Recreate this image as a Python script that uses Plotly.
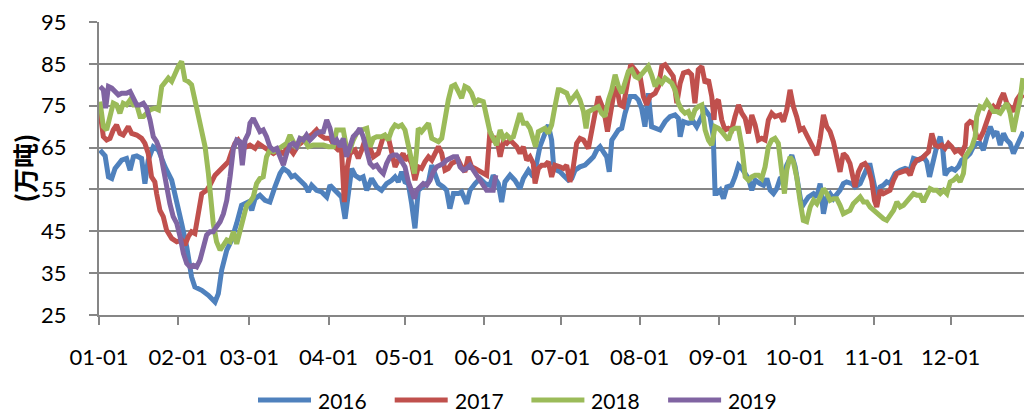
import datetime as dt
import plotly.graph_objects as go

# ---- data: day of year (0 = Jan 1) and stock readings, 万吨 ----
days_2016 = [
    0.4, 2.4, 3.7, 5.0, 6.3, 8.9, 10.8, 12.2, 13.5, 14.8, 16.7, 18.0, 19.3, 21.3, 23.3, 25.9, 28.5, 30.5, 32.4, 34.4,
    36.3, 37.6, 40.3, 42.9, 45.5, 46.8, 48.1, 50.1, 52.0, 54.0, 55.9, 58.6,
    59.9, 61.2, 63.1, 65.1, 67.0, 69.0, 71.0, 72.3, 74.2, 75.5, 76.8, 78.8, 80.8, 82.1, 83.4, 85.3, 87.3, 89.3, 90.6, 92.5,
    93.8, 95.1, 96.5, 97.8, 99.1, 100.4, 102.3, 103.6, 105.0, 106.9, 108.9, 110.8, 112.8, 114.8, 116.1, 117.4, 118.7,
    120.0, 121.3, 122.6, 123.9, 125.2, 127.2, 129.2, 130.5, 131.8, 133.1, 135.0, 136.3, 137.6, 139.0, 140.9, 142.2, 144.2,
    145.5, 147.5, 149.4, 151.4, 153.3, 154.6, 156.6, 157.9, 159.2, 161.2, 163.1, 165.1, 166.4, 168.4, 170.3, 171.6, 172.9,
    174.9, 176.2, 177.5, 178.2, 179.5,
    180.8, 182.1, 184.1, 185.4, 186.7, 188.6, 190.6, 192.6, 193.9, 195.2, 196.5, 197.8, 199.1, 200.1, 201.1, 202.4, 203.7,
    205.0, 206.3, 208.3, 210.2, 211.5, 212.8, 214.1, 215.4, 216.7, 218.7, 220.0, 222.0, 223.9, 225.9, 227.2, 227.9, 229.2,
    231.1, 233.1, 234.4, 235.7, 237.7, 239.6, 240.9, 241.6,
    242.3, 243.6, 244.9, 246.2, 248.1, 249.4, 250.8, 252.1, 253.4, 254.7, 256.0, 257.3, 259.2, 260.6, 261.9, 263.2, 264.5,
    265.8, 267.1, 268.4, 269.7, 271.7, 273.0, 274.3, 275.6, 276.9, 278.2, 280.2, 281.5, 282.8, 284.1, 285.4, 286.7, 288.0,
    289.3, 290.6, 291.9, 293.2, 295.2, 296.5, 298.5, 300.4, 301.7,
    302.4, 305.0, 306.3, 307.6, 308.9, 310.2, 312.2, 314.2, 316.1, 318.1, 319.4, 321.4, 323.3, 324.6, 325.7, 327.2, 328.5,
    329.9, 330.9, 331.8, 333.1, 334.4, 335.7, 337.0, 338.3, 340.3, 341.6, 342.9, 344.2, 345.5, 346.8, 348.2, 349.5, 350.8,
    352.1, 353.4, 354.7, 356.0, 357.3, 358.6, 359.9, 361.2, 362.5,
]
vals_2016 = [
    64.4, 63, 58, 57.6, 60, 62, 62.4, 59.6, 62.8, 63, 62.4, 56.4, 62, 65.2, 64.4, 60.4, 57.2, 52.4, 46.9, 41.3,
    34.1, 31.7, 30.9, 29.7, 28.1, 30.1, 35.7, 40.5, 42.9, 46.9, 51.2, 52,
    50, 52.8, 53.6, 52.4, 52, 55.6, 58.8, 60, 59.2, 58, 58.4, 57.2, 56, 54.4, 56, 54.8, 54.4, 53.2, 56, 54.8,
    54, 53.2, 48, 54.8, 60, 58.4, 57.6, 58, 54.8, 57.6, 55.6, 54.8, 56.4, 57.2, 58, 56.8, 59.2,
    56.8, 56.4, 51.6, 45.7, 54.8, 56, 56.8, 60.8, 58.4, 56.4, 55.6, 54.8, 50.4, 54, 54, 54.4, 51.6,
    54.8, 56.4, 57.6, 56.4, 56, 58.4, 56.4, 52, 56.8, 58.4, 57.2, 55.2, 57.6, 59.6, 58, 61.2, 65.2,
    68.4, 70.4, 66.8, 61.2, 59.6,
    59.2, 58.4, 57.2, 57.6, 59.6, 60.4, 60.8, 62, 62.8, 64.4, 65.2, 64, 62.8, 59.2, 66.8, 68, 69.2,
    69.6, 73.2, 77.2, 77.2, 76.4, 74.4, 70, 78, 70, 69.6, 69.2, 71.2, 72.4, 72.8, 72, 67.6, 71.2,
    70.8, 71.2, 70, 71.6, 74, 72.4, 67.6, 54,
    54, 54.8, 52.8, 55.6, 56, 58, 60.8, 60, 58.8, 57.6, 54.8, 57.2, 56.4, 56, 57.6, 54.8, 54,
    55.2, 57.6, 58, 60.8, 63.2, 60.4, 54.8, 50.8, 52, 53.2, 54, 53.2, 56.4, 49.2, 53.2, 54, 52.8,
    53.6, 54.8, 56.4, 56.8, 56.4, 55.6, 56.4, 58.8, 60.8,
    60.8, 53.2, 55.6, 56, 56.8, 56.4, 58.8, 59.6, 60, 59.6, 62.4, 62, 62.8, 61.6, 58, 62, 65.2,
    67.6, 64.4, 58.4, 59.6, 60, 59.6, 60.4, 62, 62.8, 63.6, 65.2, 66, 66, 64.4, 67.6, 70, 68,
    68.8, 65.6, 68.4, 66.8, 66, 63.6, 65.2, 66.8, 68.8,
]

days_2017 = [
    0.4, 1.7, 3.0, 4.3, 5.6, 6.9, 8.2, 9.5, 11.5, 12.8, 14.8, 16.7, 18.0, 19.3, 20.6, 21.9, 22.6, 23.9, 25.2, 26.5,
    28.5, 30.5, 32.4, 33.7, 35.0, 36.3, 37.6, 38.9, 40.3, 42.2, 43.5, 45.5, 47.5, 49.4, 50.7, 52.0, 53.3, 54.6, 55.9, 57.9,
    59.2, 61.2, 62.5, 64.4, 66.4, 68.4, 70.3, 72.3, 74.2, 76.2, 78.2, 80.1, 82.1, 84.0, 85.3, 86.7, 88.6, 90.6, 92.5, 93.8,
    95.1, 96.2, 97.4, 98.4, 100.4, 101.7, 103.0, 104.3, 105.6, 107.6, 109.5, 111.5, 113.4, 114.8, 116.1, 117.4, 119.3,
    120.0, 121.3, 122.6, 123.9, 125.2, 126.5, 127.8, 129.2, 130.5, 131.8, 133.1, 134.4, 135.7, 137.0, 138.3, 139.6, 140.9,
    142.2, 143.5, 144.8, 146.1, 147.5, 148.8, 150.7, 152.0, 153.3, 154.6, 155.9, 157.3, 158.6, 159.9, 161.2, 162.5, 163.8,
    165.1, 166.4, 167.7, 169.0, 170.3, 171.0, 172.3, 173.6, 174.9, 176.2, 177.5, 178.8,
    180.8, 182.1, 183.4, 184.7, 186.0, 187.3, 188.6, 190.0, 191.9, 193.2, 194.5, 195.8, 197.1, 198.4, 199.4, 200.4, 201.7,
    203.0, 204.3, 205.6, 206.9, 208.5, 210.2, 212.2, 213.5, 214.8, 216.1, 218.1, 219.4, 220.7, 222.0, 223.3, 225.2, 226.6,
    227.9, 229.2, 231.1, 232.4, 233.7, 235.0, 236.4, 237.7, 239.0, 240.3, 241.2,
    241.6, 242.9, 244.2, 245.5, 246.8, 248.1, 249.4, 250.8, 252.1, 253.4, 254.7, 256.0, 257.3, 258.6, 259.9, 261.2, 262.5,
    263.8, 265.1, 267.1, 268.4, 269.7, 271.0, 272.3, 273.6, 274.9, 276.2, 277.5, 278.9, 280.2, 281.5, 282.8, 284.1, 285.4,
    286.7, 288.0, 289.3, 290.6, 291.9, 293.2, 294.5, 296.5, 297.8, 299.1, 300.4, 301.7, 303.0, 304.1,
    305.0, 306.3, 307.6, 308.9, 310.2, 311.6, 312.9, 314.8, 316.8, 318.1, 319.4, 320.7, 322.7, 324.0, 325.3, 326.6, 327.9,
    329.2, 330.5, 331.8, 333.1, 334.4, 335.7, 337.0, 338.3, 339.7, 340.3, 341.6, 342.9, 344.2, 345.5, 346.8, 348.2, 349.5,
    350.8, 352.1, 353.4, 354.7, 356.0, 357.3, 358.6, 359.9, 361.2, 362.5,
]
vals_2017 = [
    73.6, 67.6, 66.8, 67.2, 69.2, 70.4, 68.4, 68, 70, 68.4, 68, 67.2, 66, 63.6, 58, 56.8, 54, 50, 48.5, 45.3,
    43.3, 42.5, 42.9, 41.7, 43.7, 44.9, 44.5, 48.5, 54, 54.8, 56, 58.4, 59.6, 60.4, 61.6, 64, 66, 66.8, 65.6, 65.2,
    65.6, 64.8, 66, 65.2, 64.4, 63.6, 64.4, 63.6, 65.2, 63.6, 65.6, 66.4, 67.6, 68.4, 69.2, 68, 67.2, 67.2, 65.2, 64.4,
    64.4, 52, 60.4, 63.6, 64.4, 62.4, 64.4, 66.8, 66, 62.8, 63.6, 67.6, 67.6, 64.4, 60.4, 62, 63.6,
    62, 62.8, 61.2, 57.2, 60.4, 60, 61.6, 62.8, 62, 63.6, 65.2, 63.6, 59.6, 60, 61.2, 61.6, 62,
    60.4, 59.2, 62.8, 60.4, 60, 59.6, 58.8, 58.4, 68.8, 66.4, 67.6, 62.8, 66.4, 66, 66.8, 66, 65.2,
    63.6, 65.2, 62, 62.8, 61.2, 56.4, 60, 60.8, 60.8, 61.6, 58, 60.8,
    60.4, 60, 60.8, 56.8, 60.4, 66, 67.2, 66.8, 64.8, 69.2, 74.4, 77.2, 75.2, 72.4, 68.8, 73.2, 77.2,
    79.6, 75.2, 74.8, 78.8, 84.8, 83.6, 82, 77.2, 75.2, 77.2, 78, 79.6, 84.4, 84.8, 83.6, 82, 75.6,
    80.4, 82.8, 83.2, 82.4, 75.6, 83.6, 84.4, 80.4, 81.2, 77.2, 71.6,
    75.6, 76.4, 71.6, 69.2, 69.6, 69.2, 72.4, 75.2, 73.2, 72, 68.4, 72.8, 70.4, 66.8, 67.2, 66.8, 71.6,
    73.2, 72.4, 72.8, 71.2, 74, 78.8, 74.8, 72.4, 69.2, 69.6, 68, 66, 64.8, 63.2, 67.2, 72.8, 70,
    68.8, 66.4, 62, 59.2, 63.6, 62.8, 61.2, 55.6, 59.2, 60.8, 61.2, 60, 57.2, 52.4,
    50.8, 54.8, 54, 54.4, 54.8, 57.2, 58.8, 59.2, 59.6, 58.4, 60.8, 62, 62.4, 63.2, 64, 68.4, 65.6,
    65.2, 65.6, 64.8, 66, 65.2, 64, 64.4, 63.6, 65.6, 70.4, 71.2, 70.8, 67.6, 67.2, 68.8, 71.2, 73.6,
    74.8, 74, 76.4, 78, 75.6, 74.8, 73.6, 76.4, 77.6, 76.8,
]

days_2018 = [
    0.4, 1.7, 3.0, 4.3, 5.6, 6.9, 8.2, 9.5, 10.8, 12.2, 13.5, 14.8, 16.1, 17.4, 18.7, 20.0, 21.9, 23.3, 24.6, 25.9,
    27.2, 28.5, 29.8, 31.1, 32.4, 33.7, 35.0, 36.3, 37.6, 38.9, 40.3, 41.6, 42.9, 43.9, 44.8, 46.1, 47.5, 48.8, 50.1, 51.4,
    52.7, 54.0, 55.3, 56.6, 57.9,
    59.2, 60.5, 61.8, 63.1, 64.4, 65.7, 67.0, 68.4, 69.7, 71.6, 73.6, 74.9, 76.2, 77.5, 78.8, 80.1, 82.1, 84.0, 86.0, 88.0,
    89.9, 91.9, 93.2, 94.5, 95.8, 97.1, 98.4, 99.7, 101.0, 103.0, 105.0, 106.3, 107.6, 108.9, 110.8, 112.1, 113.4, 114.8,
    116.1, 117.4, 118.7,
    120.0, 121.3, 122.6, 123.7, 124.6, 125.2, 126.5, 127.8, 129.2, 130.5, 131.8, 133.1, 134.4, 135.7, 137.0, 138.3, 139.6,
    140.9, 142.2, 143.5, 144.8, 146.1, 147.5, 148.8, 150.7, 152.0, 153.3, 154.6, 155.9, 157.3, 158.6, 159.9, 161.2, 162.5,
    163.8, 165.1, 166.4, 167.7, 169.0, 170.3, 171.2, 172.3, 173.6, 174.9, 176.2, 177.5, 178.8, 180.1,
    180.8, 182.1, 183.4, 184.7, 186.0, 187.3, 188.6, 190.0, 191.0, 191.9, 193.2, 194.5, 195.8, 197.1, 198.4, 199.8, 201.1,
    202.4, 203.7, 205.0, 206.3, 207.6, 208.9, 210.2, 211.5, 212.8, 214.1, 215.4, 216.7, 218.1, 219.4, 220.7, 222.0, 223.3,
    224.6, 225.9, 227.2, 228.5, 229.8, 231.1, 232.4, 233.7, 235.0, 236.4, 237.7, 239.0, 240.3,
    241.6, 242.9, 244.2, 245.5, 246.8, 248.1, 249.4, 250.8, 252.1, 253.4, 254.7, 256.0, 257.3, 258.6, 259.9, 261.2, 262.5,
    263.8, 265.1, 266.4, 267.7, 268.8, 269.7, 271.0, 272.3, 273.6, 274.9, 276.2, 277.5, 278.9, 280.2, 281.5, 282.8, 284.1,
    285.4, 286.7, 288.0, 289.3, 290.6, 291.9, 293.2, 294.5, 295.8, 297.2, 298.5, 299.8, 301.1,
    302.4, 303.7, 305.0, 306.3, 307.6, 308.9, 310.2, 311.6, 312.9, 314.2, 315.5, 316.8, 318.1, 319.4, 320.7, 322.0, 323.3,
    324.6, 325.9, 327.2, 328.5, 329.9, 331.2, 332.5, 333.8, 335.1, 336.4, 337.7, 339.0, 339.7, 341.0, 342.3, 343.6, 344.2,
    345.5, 346.8, 348.2, 349.5, 350.8, 352.1, 353.4, 354.7, 356.0, 357.3, 358.6, 359.9, 361.2, 362.3,
]
vals_2018 = [
    76, 70, 69.2, 72.4, 75.6, 75.2, 73.2, 75.6, 75.2, 76.4, 75.2, 75.2, 72.4, 72.4, 73.2, 74, 74.4, 74, 79.6, 80.8,
    81.6, 80.8, 82.8, 84.4, 85.6, 81.2, 80.8, 80, 76.4, 72.4, 68.4, 65.2, 58.8, 52.4, 46.9, 42.5, 40.5, 41.7, 42.9, 42.5,
    44.9, 42, 45.3, 48.5, 51.2,
    52, 53.2, 56.4, 57.6, 58, 62.8, 64.4, 64, 64.4, 65.2, 66, 68, 66, 64.8, 66.8, 67.2, 65.2, 65.6, 65.6, 65.6,
    65.2, 65.2, 69.2, 69.2, 69.2, 64.8, 64.4, 66.8, 68.4, 69.2, 69.6, 65.2, 67.2, 67.6, 67.6, 68, 66.8, 69.2,
    70.4, 70, 70.4,
    69.2, 65.2, 62, 58.8, 64.4, 69.6, 68.8, 70, 70.8, 67.2, 66.8, 66.4, 67.2, 72.4, 76.4, 79.6, 80,
    78.4, 76.8, 79.6, 79.2, 78, 75.6, 76.4, 76, 72.4, 68.8, 67.2, 65.6, 69.2, 67.2, 68, 67.2, 67.6,
    70, 73.2, 70.8, 70.8, 69.6, 67.2, 65.2, 68.8, 69.2, 69.6, 68.4, 70.4, 74.8, 78.8,
    78.8, 78.4, 78, 76, 77.2, 78, 76.4, 73.6, 69.6, 73.6, 74, 74.4, 74.8, 73.2, 72.4, 76.4, 78.8,
    82.4, 79.6, 78, 80.4, 83.2, 83.6, 82, 81.6, 82.4, 83.6, 84.4, 82.4, 79.6, 81.2, 80.4, 81.6, 80.8,
    80.4, 78.8, 75.6, 74, 73.2, 73.6, 71.6, 74, 74.8, 75.2, 69.2, 66.8, 65.6,
    70, 69.6, 68.8, 67.6, 66.8, 69.2, 69.6, 69.6, 65.2, 58, 57.2, 58, 58.4, 58.4, 57.6, 60.4, 65.2,
    66.8, 67.2, 66, 60.4, 54, 59.6, 62.8, 61.6, 58, 52.4, 47.6, 47.3, 50.8, 52.4, 51.6, 53.2, 55.2,
    54, 52.4, 52.8, 52.8, 51.2, 49.2, 49.6, 50, 51.6, 52.4, 53.2, 52, 52,
    50.8, 50, 49.2, 48.8, 48, 47.6, 48.8, 50, 52, 50.8, 51.2, 52, 53.2, 54, 53.6, 53.6, 52,
    54, 55.2, 54.8, 54.8, 54, 54.8, 54, 56.8, 57.2, 58, 56.8, 58.8, 62.8, 64, 65.2, 67.6, 72.4,
    74.8, 74.4, 76, 74.8, 73.6, 73.6, 73.2, 74.4, 75.6, 73.2, 68.8, 72.8, 76.4, 81.6,
]

days_2019 = [
    0.4, 1.7, 2.6, 3.7, 5.0, 6.3, 7.6, 8.9, 10.8, 12.2, 13.5, 14.8, 16.1, 17.4, 18.7, 20.0, 21.3, 22.6, 23.9, 25.2,
    26.5, 27.8, 29.1, 30.5, 31.8, 33.1, 34.4, 35.7, 37.0, 38.3, 39.6, 40.9, 42.2, 43.5, 44.8, 46.1, 47.5, 48.8, 50.1, 51.4,
    52.7, 54.0, 55.3, 56.2, 57.3, 58.6,
    59.2, 60.5, 61.8, 63.1, 64.4, 65.7, 67.0, 68.4, 69.7, 71.0, 72.3, 73.6, 74.9, 76.2, 77.5, 78.8, 80.1, 81.4, 82.7, 84.0,
    85.3, 86.7, 88.0, 89.3, 90.6, 91.9, 93.2, 94.5, 95.8, 97.1, 98.4, 99.7, 101.0, 102.3, 103.6, 105.0, 106.3, 107.6,
    108.9, 110.2, 111.5, 112.8, 114.1, 115.4, 116.7, 118.0, 119.3,
    120.0, 121.3, 122.6, 123.7, 124.6, 125.9, 127.2, 128.5, 129.8, 131.1, 132.4, 133.7, 135.0, 136.3, 137.6, 139.0, 140.3,
    141.6, 142.9, 144.2, 145.5, 146.8, 148.1, 149.4, 150.7, 152.0, 153.3, 154.6, 155.6,
]
vals_2019 = [
    79.6, 78.8, 74.4, 79.6, 79.2, 78.4, 77.6, 78, 78, 78.4, 76.8, 75.2, 75.2, 75.6, 74.4, 71.6, 67.6, 66.4, 64.4, 59.6,
    54.8, 51.6, 48.5, 46.9, 43.7, 39.7, 37.3, 36.5, 36.9, 36.5, 38.1, 41.3, 44.1, 44.9, 44.9, 46.1, 47.3, 49.2, 52.4, 58,
    64.8, 66.8, 66.4, 60.8, 66.8, 68.4,
    70.8, 72, 70.4, 68.8, 69.2, 67.6, 65.2, 64.4, 64.8, 62.8, 60.8, 63.6, 65.6, 66, 65.2, 67.2, 66.8, 68, 66.8, 67.6,
    68.4, 68.8, 68.8, 71.6, 69.6, 66, 66.8, 65.2, 67.2, 62.8, 65.2, 67.6, 68.4, 69.6, 67.6, 64.4, 61.2, 60.4,
    60.8, 59.6, 58.8, 61.2, 62.8, 63.2, 63.2, 62.4, 61.2,
    60.4, 56.8, 54.8, 52.8, 54.8, 55.6, 56.4, 56, 57.2, 59.2, 60.4, 60.8, 61.2, 62, 62.4, 62.8, 62.8,
    60.4, 59.6, 60, 60.8, 59.6, 58.4, 57.2, 55.6, 54.8, 54.8, 54.8, 58.4,
]

series_names = ["2016", "2017", "2018", "2019"]
series_colors = ["#4F81BD", "#C0504D", "#9BBB59", "#8064A2"]
month_labels = ["01-01", "02-01", "03-01", "04-01", "05-01", "06-01",
                "07-01", "08-01", "09-01", "10-01", "11-01", "12-01"]
y_ticks = [25, 35, 45, 55, 65, 75, 85, 95]
y_title = "(万吨)"

# month starts as day-of-year on a common (non-leap) calendar
ref_year = 2019
month_starts = [(dt.date(ref_year, m, 1) - dt.date(ref_year, 1, 1)).days for m in range(1, 13)]

W, H = 1024, 414
M_L, M_R, M_T, M_B = 99, 0, 22, 99
plot_w = W - M_L - M_R
plot_h = H - M_T - M_B

FONT = "Lato, 'Liberation Sans', Arial, sans-serif"
GRID = "#868686"

fig = go.Figure()
all_days = [days_2016, days_2017, days_2018, days_2019]
all_vals = [vals_2016, vals_2017, vals_2018, vals_2019]
for name, color, xs, ys in zip(series_names, series_colors, all_days, all_vals):
    fig.add_trace(go.Scatter(
        x=xs, y=ys, name=name, mode="lines",
        line=dict(color=color, width=5),
        showlegend=False, hoverinfo="skip",
    ))

fig.update_xaxes(
    range=[0, plot_w / 2.55],
    tickmode="array", tickvals=month_starts, ticktext=month_labels,
    ticks="outside", ticklen=8, tickwidth=2, tickcolor=GRID,
    showline=True, linecolor=GRID, linewidth=2,
    showgrid=False, zeroline=False,
    tickfont=dict(family=FONT, size=22, color="#000"),
    ticklabelstandoff=14,
)
fig.update_yaxes(
    range=[25, 95],
    tickmode="array", tickvals=y_ticks,
    ticks="outside", ticklen=8, tickwidth=2, tickcolor=GRID,
    showline=True, linecolor=GRID, linewidth=2,
    showgrid=True, gridcolor=GRID, gridwidth=2,
    zeroline=False,
    tickfont=dict(family=FONT, size=22, color="#000"),
    ticklabelstandoff=18,
)

# axis title, vertical text left of the tick labels
fig.add_annotation(
    text=f"<b>{y_title}</b>", textangle=-90,
    xref="paper", yref="paper", x=(23 - M_L) / plot_w, y=0.5,
    xanchor="center", yanchor="middle", showarrow=False,
    font=dict(family="'Noto Sans CJK SC', sans-serif", size=25, color="#000"),
)

# legend row below the axis: coloured swatch + year label
leg_y = (M_T + plot_h - 400) / plot_h
for i, (name, color) in enumerate(zip(series_names, series_colors)):
    x0 = 258 + i * 136.7
    fig.add_shape(
        type="line", xref="paper", yref="paper",
        x0=(x0 - M_L) / plot_w, x1=(x0 + 53 - M_L) / plot_w, y0=leg_y, y1=leg_y,
        line=dict(color=color, width=5),
    )
    fig.add_annotation(
        text=name, xref="paper", yref="paper",
        x=(x0 + 58 - M_L) / plot_w, y=leg_y, xanchor="left", yanchor="middle",
        showarrow=False, font=dict(family=FONT, size=21, color="#000"),
    )

fig.update_layout(
    width=W, height=H,
    margin=dict(l=M_L, r=M_R, t=M_T, b=M_B, pad=0),
    paper_bgcolor="white", plot_bgcolor="white",
    showlegend=False,
)

fig.write_html("out.html", include_plotlyjs=True, full_html=True,
               config={"displayModeBar": False})
